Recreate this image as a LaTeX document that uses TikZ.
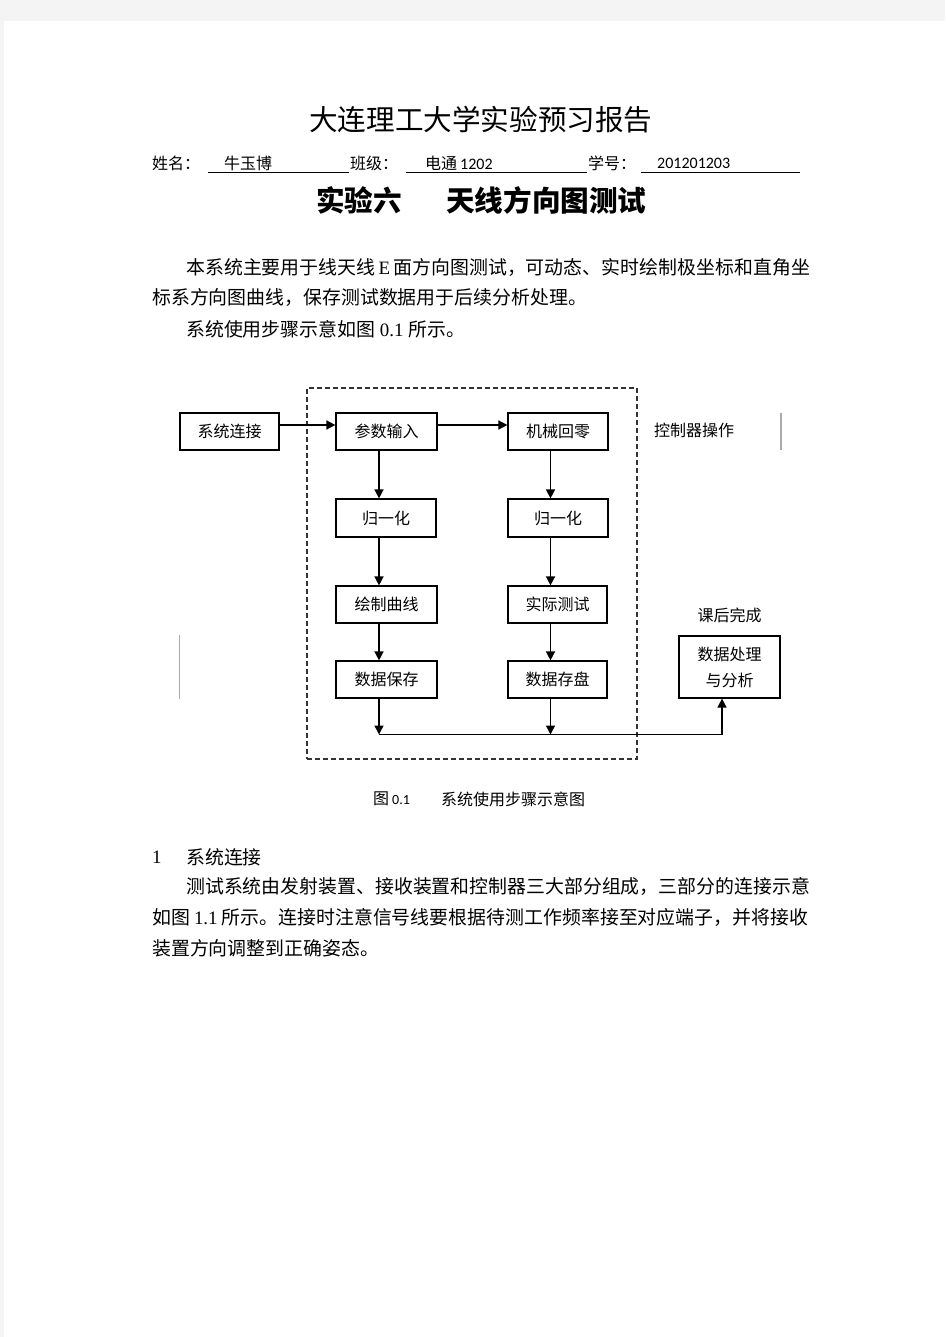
\documentclass[tikz,border=0pt]{standalone}
\usepackage{fontspec}
\setmainfont{Liberation Serif}
\newfontfamily\cjk{Noto Sans CJK SC}
\newfontfamily\calf{Carlito}
\usetikzlibrary{arrows.meta}
\definecolor{pagegray}{HTML}{F4F4F4}
\definecolor{rulegray}{HTML}{AAAAAA}
\makeatletter
\def\J@end{}
\def\J#1{\J@a#1\J@end}
\def\J@a#1{#1\J@}
\def\J@#1{\ifx#1\J@end\else\hfil#1\expandafter\J@\fi}
\makeatother
\newcommand\lat[1]{{\rmfamily #1}}
\newcommand\fs[1]{\fontsize{#1}{#1}\selectfont}
\begin{document}
\begin{tikzpicture}[x=1pt,y=-1pt,
  txt/.style={inner sep=0pt, anchor=west},
  body/.style={txt, font=\cjk\fs{18.9}},
  box/.style={draw, line width=1.2pt, minimum width=100pt, minimum height=37pt, inner sep=0pt, font=\cjk\fs{16}},
  arr/.style={-{Triangle[length=9pt,width=9pt]}, line width=1.5pt},
  ln/.style={line width=1.5pt},
  dashbox/.style={draw=black!80, line width=1.2pt, dash pattern=on 5pt off 3pt, inner sep=0pt},
  grayrule/.style={draw=rulegray, line width=1.5pt},
  uline/.style={line width=1pt}]
% page
\fill[pagegray] (0,0) rectangle (945,1337);
\fill[white] (4,21) rectangle (945,1337);
\useasboundingbox (0,0) rectangle (945,1337);

% header
\node[txt, font=\cjk\fs{28.6}] (title) at (309,120) {大连理工大学实验预习报告};
\node[txt, font=\cjk\fs{16}] (nmlab) at (152,163) {姓名：};
\node[txt, font=\cjk\fs{16}] (nm) at (224,163) {牛玉博};
\node[txt, font=\cjk\fs{16}] (cllab) at (350,163) {班级：};
\node[txt, font=\cjk\fs{16}] (cl) at (425,163) {电通\hspace{3pt}{\calf 1202}};
\node[txt, font=\cjk\fs{16}] (idlab) at (588,163) {学号：};
\node[txt, font=\calf\fs{16}] (id) at (657,163) {201201203};
\draw[uline] (208,173) -- (349,173);
\draw[uline] (406,173) -- (587,173);
\draw[uline] (641,173) -- (800,173);
\node[txt, font=\cjk\bfseries\fs{28.6}] (sub1) at (316,200) {实验六};
\node[txt, font=\cjk\bfseries\fs{28.6}] (sub2) at (446,200) {天线方向图测试};

% paragraph 1
\node[body] (p1a) at (186,268) {\makebox[624pt][s]{\J{本系统主要用于线天线}\hspace{3pt}\hfil\lat{E}\hspace{3pt}\hfil\J{面方向图测试，可动态、实时绘制极坐标和直角坐}}};
\node[body] (p1b) at (152,298) {标系方向图曲线，保存测试数据用于后续分析处理。};
\node[body] (p1c) at (186,329) {系统使用步骤示意如图\lat{ 0.1 }所示。};

% diagram
\node[dashbox, minimum width=330pt, minimum height=371pt] (ctrl) at (472,573.5) {};
\node[box, minimum width=99pt] (conn) at (229.5,431.5) {系统连接};
\node[box, minimum width=101pt] (param) at (386.5,431.5) {参数输入};
\node[box] (mech) at (558,431.5) {机械回零};
\node[box, minimum height=38pt] (normL) at (386,518) {归一化};
\node[box, minimum height=38pt] (normR) at (558,518) {归一化};
\node[box, minimum width=101pt] (drawc) at (386.5,604.5) {绘制曲线};
\node[box, minimum width=99pt] (test) at (557.5,604.5) {实际测试};
\node[box, minimum width=101pt] (saveL) at (386.5,679.5) {数据保存};
\node[box, minimum width=99pt] (saveR) at (557.5,679.5) {数据存盘};
\node[box, minimum width=101pt, minimum height=62pt, align=center, font=\cjk\fontsize{16}{26}\selectfont] (proc) at (729.5,667) {数据处理\\与分析};
\node[txt, font=\cjk\fs{16}, anchor=center] (ctrllab) at (694,430) {控制器操作};
\node[txt, font=\cjk\fs{16}, anchor=center] (after) at (729.5,615) {课后完成};
\draw[grayrule] (781,413) -- (781,450);
\draw[grayrule] (179.5,635) -- (179.5,699);

\coordinate (colL) at (379,0);
\coordinate (colR) at (550.5,0);
\coordinate (colP) at (722,0);
\coordinate (bus) at (0,734.5);

\draw[arr] ([yshift=6.5pt]conn.east) -- ([yshift=6.5pt]param.west);
\draw[arr] ([yshift=6.5pt]param.east) -- ([yshift=6.5pt]mech.west);
\draw[arr] (param.south -| colL) -- (normL.north -| colL);
\draw[arr] (normL.south -| colL) -- (drawc.north -| colL);
\draw[arr] (drawc.south -| colL) -- (saveL.north -| colL);
\draw[arr] (mech.south -| colR) -- (normR.north -| colR);
\draw[arr] (normR.south -| colR) -- (test.north -| colR);
\draw[arr] (test.south -| colR) -- (saveR.north -| colR);
\draw[arr] (saveL.south -| colL) -- (bus -| colL);
\draw[arr] (saveR.south -| colR) -- (bus -| colR);
\draw[ln] (bus -| colL) -- (bus -| colP);
\draw[arr] (bus -| colP) -- (proc.south -| colP);

% caption
\node[txt, font=\cjk\fs{16}] (cap1) at (373,799) {图};
\node[txt, font=\calf\fs{14}] (cap2) at (392,800) {0.1};
\node[txt, font=\cjk\fs{16}] (cap3) at (441,799) {系统使用步骤示意图};

% section 1
\node[body] (h1n) at (152,857) {\lat{1}};
\node[body] (h1) at (186,857) {系统连接};
\node[body] (p2a) at (186,886) {\makebox[622pt][s]{\J{测试系统由发射装置、接收装置和控制器三大部分组成，三部分的连接示意}}};
\node[body] (p2b) at (152,917) {\makebox[656pt][s]{\J{如图}\hspace{4pt}\hfil\lat{1.1}\hspace{4pt}\hfil\J{所示。连接时注意信号线要根据待测工作频率接至对应端子，并将接收}}};
\node[body] (p2c) at (152,948) {装置方向调整到正确姿态。};
\end{tikzpicture}
\end{document}
